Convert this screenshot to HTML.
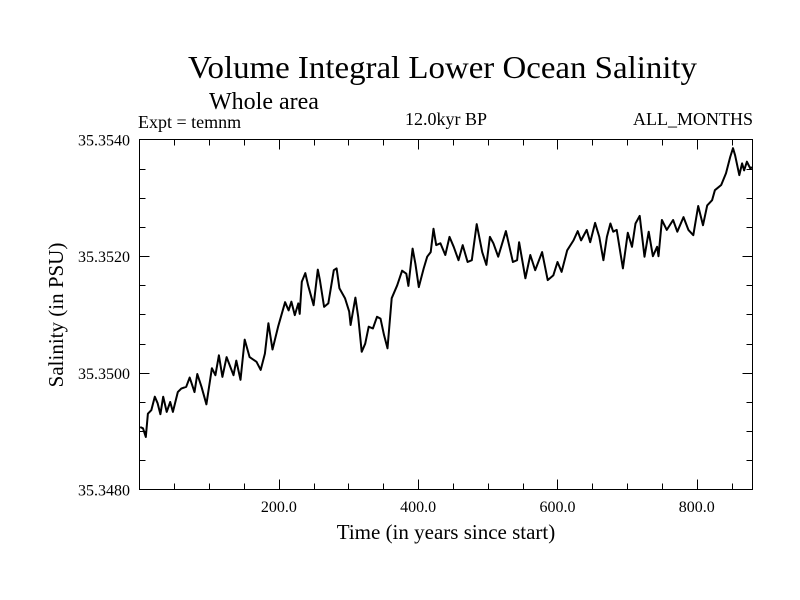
<!DOCTYPE html>
<html><head><meta charset="utf-8"><style>
html,body{margin:0;padding:0;background:#fff;}
svg{display:block;font-family:"Liberation Serif",serif;}
</style></head><body>
<svg id="chart" width="800" height="600" viewBox="0 0 800 600">
<text x="188" y="78" font-size="32" textLength="509" lengthAdjust="spacingAndGlyphs">Volume Integral Lower Ocean Salinity</text>
<text x="209" y="109" font-size="24">Whole area</text>
<text x="138" y="128" font-size="18">Expt = temnm</text>
<text x="446" y="125" font-size="18" text-anchor="middle">12.0kyr BP</text>
<text x="753" y="125" font-size="18" text-anchor="end">ALL_MONTHS</text>
<text transform="translate(63,315) rotate(-90)" font-size="21" text-anchor="middle">Salinity (in PSU)</text>
<text x="446" y="539" font-size="21" text-anchor="middle">Time (in years since start)</text>
<g id="axes"></g>
<g id="series"></g>
<rect x="139.5" y="139.5" width="613" height="350" fill="none" stroke="#000" stroke-width="1"/>
</svg>
<script>
const years=[1,5,9,12,17,22,26,30,34,39,44,48,55,60,67,72,79,83,89,96,104,109,114,119,125,135,139,145,151,158,168,174,180,185,191,199,209,214,218,223,228,230,233,238,242,250,256,259,265,271,279,283,287,295,301,303,310,314,319,324,329,335,341,346,351,356,362,370,377,383,386,392,396,401,408,413,418,422,426,432,439,445,451,458,464,471,477,484,492,498,503,508,515,526,536,542,545,554,561,568,578,586,594,600,606,614,623,629,634,642,647,654,660,666,671,676,680,685,694,701,707,712,718,725,731,737,743,745,750,757,766,772,781,788,795,802,809,815,822,826,835,842,848,852,855,861,865,868,872,877,879];
const salinity=[35.34907,35.34905,35.34890,35.34930,35.34936,35.34959,35.34948,35.34929,35.34959,35.34933,35.34950,35.34933,35.34967,35.34973,35.34976,35.34992,35.34967,35.34998,35.34976,35.34946,35.35008,35.34996,35.35030,35.34993,35.35027,35.34996,35.35021,35.34988,35.35057,35.35027,35.35019,35.35005,35.35033,35.35085,35.35040,35.35079,35.35121,35.35107,35.35122,35.35099,35.35119,35.35101,35.35156,35.35171,35.35150,35.35116,35.35177,35.35159,35.35113,35.35119,35.35176,35.35179,35.35145,35.35128,35.35105,35.35082,35.35129,35.35096,35.35036,35.35050,35.35079,35.35076,35.35096,35.35093,35.35065,35.35042,35.35128,35.35150,35.35175,35.35170,35.35149,35.35213,35.35187,35.35147,35.35179,35.35199,35.35207,35.35247,35.35219,35.35222,35.35202,35.35233,35.35216,35.35193,35.35219,35.35190,35.35193,35.35255,35.35207,35.35185,35.35233,35.35222,35.35199,35.35243,35.35190,35.35193,35.35224,35.35162,35.35202,35.35176,35.35207,35.35159,35.35167,35.35190,35.35173,35.35210,35.35227,35.35243,35.35227,35.35245,35.35224,35.35257,35.35233,35.35193,35.35233,35.35256,35.35242,35.35245,35.35179,35.35240,35.35216,35.35256,35.35269,35.35199,35.35242,35.35200,35.35216,35.35200,35.35262,35.35245,35.35262,35.35242,35.35267,35.35245,35.35236,35.35286,35.35253,35.35287,35.35296,35.35313,35.35322,35.35342,35.35370,35.35385,35.35373,35.35339,35.35359,35.35347,35.35362,35.35350,35.35353];
const xTickValues=[200,400,600,800];
const xTickLabels=["200.0","400.0","600.0","800.0"];
const yTickValues=[35.348,35.350,35.352,35.354];
const yTickLabels=["35.3480","35.3500","35.3520","35.3540"];

const X0=139.5,X1=752.5,Y0=489.5,Y1=139.5,XMIN=0,XMAX=880,YMIN=35.348,YMAX=35.354;
function sx(v){return X0+(v-XMIN)/(XMAX-XMIN)*(X1-X0);}
function sy(v){return Y0-(v-YMIN)/(YMAX-YMIN)*(Y0-Y1);}
const NS="http://www.w3.org/2000/svg";
const axes=document.getElementById('axes');
function ln(x1,y1,x2,y2,name){
  const l=document.createElementNS(NS,'line');
  l.setAttribute('x1',x1);l.setAttribute('y1',y1);l.setAttribute('x2',x2);l.setAttribute('y2',y2);
  l.setAttribute('stroke','#000');l.setAttribute('stroke-width','1');
  
  
  axes.appendChild(l);
}
for(let v=50;v<XMAX;v+=50){
  const major=(v%200===0);const x=Math.round(sx(v))+0.5;const len=major?10:6;
  ln(x,Y0,x,Y0-len,'x-tick');ln(x,Y1,x,Y1+len,'x-tick-top');
}
for(let v=YMIN+0.0005;v<YMAX-0.0001;v+=0.0005){
  const y=Math.round(sy(v))+0.5;const major=Math.abs(((v-YMIN)/0.002)-Math.round((v-YMIN)/0.002))<1e-6;const len=major?10:6;
  ln(X0,y,X0+len,y,'y-tick');ln(X1,y,X1-len,y,'y-tick-right');
}
xTickValues.forEach((v,i)=>{
  const t=document.createElementNS(NS,'text');
  t.setAttribute('x',sx(v));t.setAttribute('y',512);t.setAttribute('font-size','16');t.setAttribute('text-anchor','middle');
  t.textContent=xTickLabels[i];
  
  
  axes.appendChild(t);
});
yTickValues.forEach((v,i)=>{
  const t=document.createElementNS(NS,'text');
  t.setAttribute('x',130);t.setAttribute('y',sy(v)+6);t.setAttribute('font-size','16');t.setAttribute('text-anchor','end');
  t.textContent=yTickLabels[i];
  
  
  axes.appendChild(t);
});
const p=document.createElementNS(NS,'polyline');
p.setAttribute('points',years.map((y,i)=>sx(y).toFixed(1)+','+sy(salinity[i]).toFixed(1)).join(' '));
p.setAttribute('fill','none');p.setAttribute('stroke','#000');p.setAttribute('stroke-width','2');p.setAttribute('stroke-linejoin','round');


document.getElementById('series').appendChild(p);
</script>
</body></html>
